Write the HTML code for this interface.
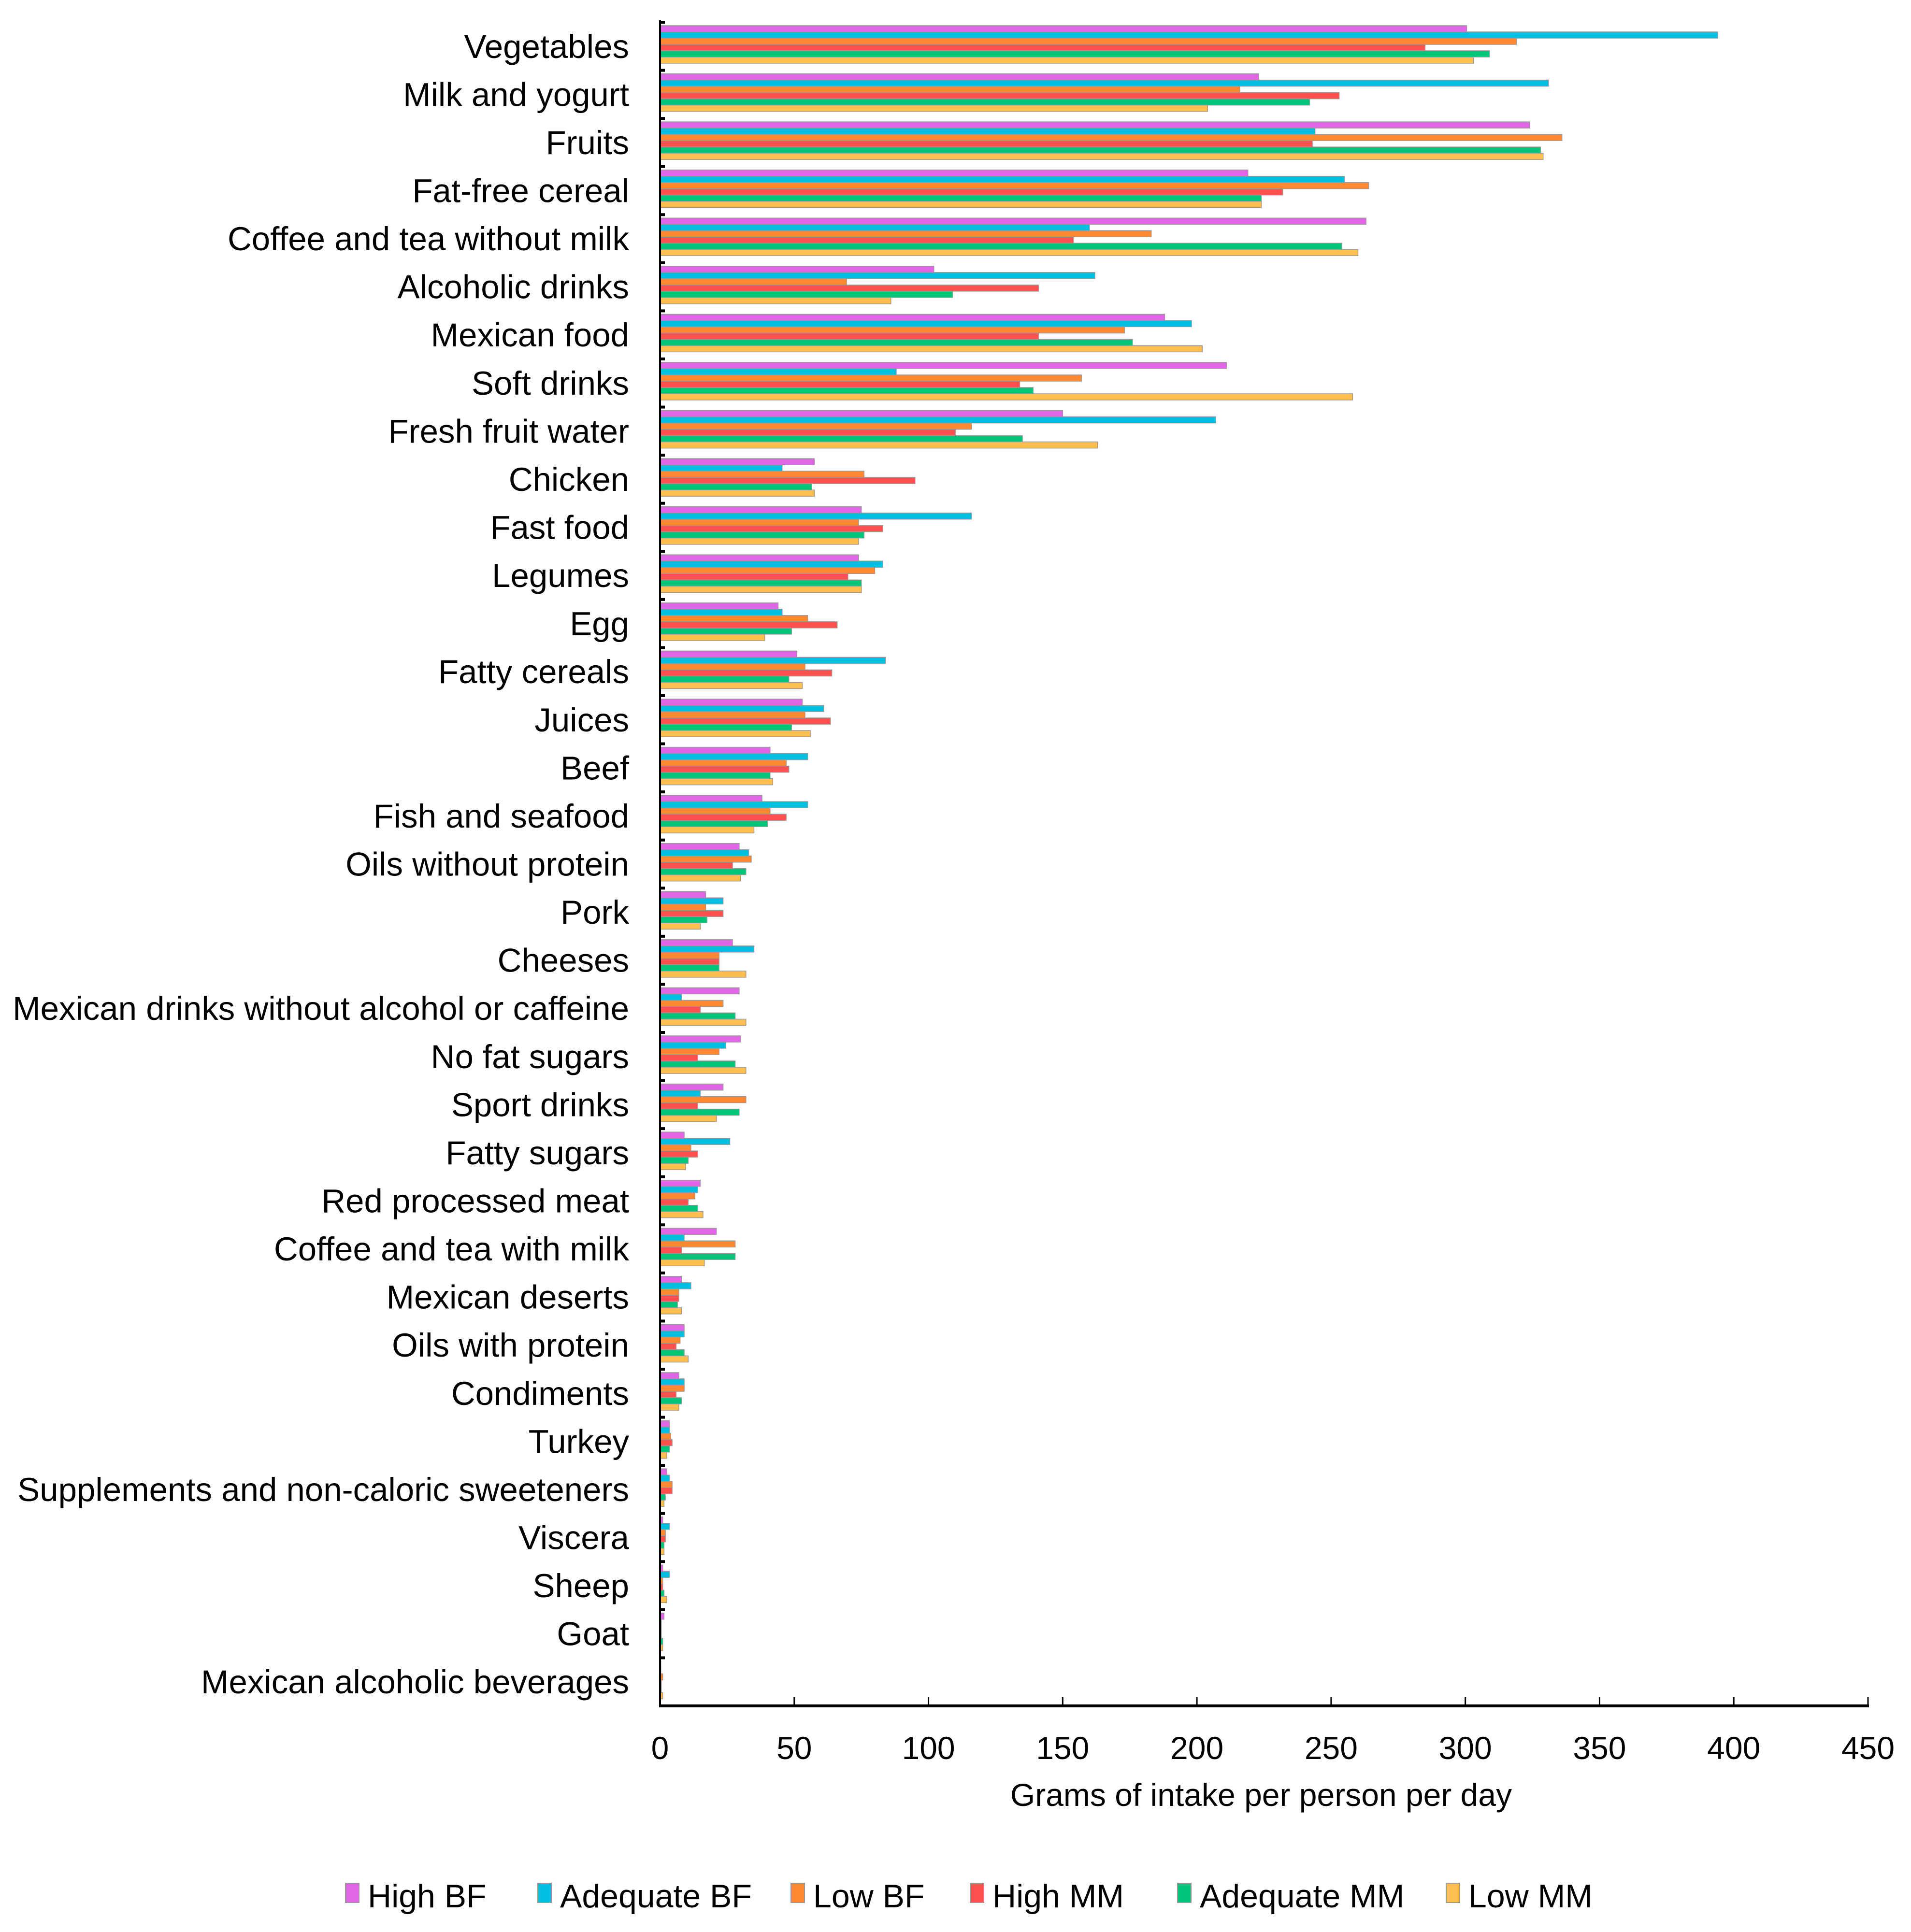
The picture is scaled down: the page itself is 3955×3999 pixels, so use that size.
<!DOCTYPE html>
<html><head><meta charset="utf-8"><style>
html,body{margin:0;padding:0;background:#fff;}
svg{display:block;font-family:"Liberation Sans",Arial,sans-serif;}
</style></head><body>
<svg id="chart" width="3955" height="3999" viewBox="0 0 3955 3999" xmlns="http://www.w3.org/2000/svg">
<g id="bars"></g>
<g id="yaxis"></g>
<g id="xaxis"></g>
<text x="2610" y="3738" font-size="66" text-anchor="middle">Grams of intake per person per day</text>
<g id="legend"></g>
</svg>
<script>
const categories = ["Vegetables","Milk and yogurt","Fruits","Fat-free cereal","Coffee and tea without milk","Alcoholic drinks","Mexican food","Soft drinks","Fresh fruit water","Chicken","Fast food","Legumes","Egg","Fatty cereals","Juices","Beef","Fish and seafood","Oils without protein","Pork","Cheeses","Mexican drinks without alcohol or caffeine","No fat sugars","Sport drinks","Fatty sugars","Red processed meat","Coffee and tea with milk","Mexican deserts","Oils with protein","Condiments","Turkey","Supplements and non-caloric sweeteners","Viscera","Sheep","Goat","Mexican alcoholic beverages"];
const seriesNames = ["High BF","Adequate BF","Low BF","High MM","Adequate MM","Low MM"];
const highBF =     [300.5,223,324,219,263,102,188,211,150,57.5,75,74,44,51,53,41,38,29.5,17,27,29.5,30,23.5,9,15,21,8,9,7,3.5,2.5,1,1,1.5,0.3];
const adequateBF = [394,331,244,255,160,162,198,88,207,45.5,116,83,45.5,84,61,55,55,33,23.5,35,8,24.5,15,26,14,9,11.5,9,9,3.5,3.5,3.5,3.5,0.5,0.3];
const lowBF =      [319,216,336,264,183,69.5,173,157,116,76,74,80,55,54,54,47,41,34,17,22,23.5,22,32,11.5,13,28,7,7.5,9,4,4.5,2,1,0.5,1];
const highMM =     [285,253,243,232,154,141,141,134,110,95,83,70,66,64,63.5,48,47,27,23.5,22,15,14,14,14,10.5,8,7,6,6,4.5,4.5,2,1,0.5,0.5];
const adequateMM = [309,242,328,224,254,109,176,139,135,56.5,76,75,49,48,49,41,40,32,17.5,22,28,28,29.5,10.5,14,28,6.5,9,8,3.5,2,1.5,1.5,1,0.5];
const lowMM =      [303,204,329,224,260,86,202,258,163,57.5,74,75,39,53,56,42,35,30,15,32,32,32,21,9.5,16,16.5,8,10.5,7,2.5,1.5,1.5,2.5,1,1];
const xTicks = [0,50,100,150,200,250,300,350,400,450];
const series = [highBF, adequateBF, lowBF, highMM, adequateMM, lowMM];
const colors = ["#E066E6","#00BFE0","#FF8833","#FF5050","#00C478","#FFBF50"];
const NS = "http://www.w3.org/2000/svg";
const X0 = 1366, X1 = 3866, XMAX = 450, YTOP = 46, YBOT = 3531;
const band = (YBOT - YTOP) / categories.length;
const xs = v => X0 + v / XMAX * (X1 - X0);
const yb = i => YTOP + i * band;
function mk(tag, attrs, parent){const e=document.createElementNS(NS,tag);for(const k in attrs)e.setAttribute(k,attrs[k]);parent.appendChild(e);return e;}
const gBars=document.getElementById('bars'), gY=document.getElementById('yaxis'), gX=document.getElementById('xaxis'), gL=document.getElementById('legend');
const barH = 13;
categories.forEach((c,i)=>{
  series.forEach((s,j)=>{
    const r = mk('rect',{x:X0,y:yb(i)+7+j*barH,width:Math.max(0.5,xs(s[i])-X0),height:barH,fill:colors[j],stroke:'#999','stroke-width':1.5},gBars);
    
    
  });
  const t = mk('text',{x:1302,y:yb(i)+band/2+24,'font-size':69,'text-anchor':'end'},gY);
  t.textContent = c;
  
  
});
for(let i=0;i<=categories.length;i++){
  const tk = mk('rect',{x:X0,y:yb(i)-3,width:10,height:6,fill:'#000'},gY);
  
  
}
const yl = mk('rect',{x:X0-2,y:YTOP-4,width:4,height:YBOT-YTOP+4,fill:'#000'},gY);


const xl = mk('rect',{x:X0-2,y:YBOT-3,width:X1-X0+4,height:6,fill:'#000'},gX);


xTicks.forEach(v=>{
  const l = mk('line',{x1:xs(v),x2:xs(v),y1:YBOT-18,y2:YBOT,stroke:'#000','stroke-width':3},gX);
  
  
  const t = mk('text',{x:xs(v),y:3641,'font-size':66,'text-anchor':'middle'},gX);
  t.textContent = v;
  
  
});
const legX = [715,1113,1637,2008,2437,2993];
seriesNames.forEach((n,j)=>{
  const g = mk('g',{},gL);
  
  
  mk('rect',{x:legX[j],y:3898,width:28,height:40,fill:colors[j],stroke:'#999','stroke-width':2},g);
  const t = mk('text',{x:legX[j]+46,y:3948,'font-size':68},g);
  t.textContent = n;
});
</script>
</body></html>
